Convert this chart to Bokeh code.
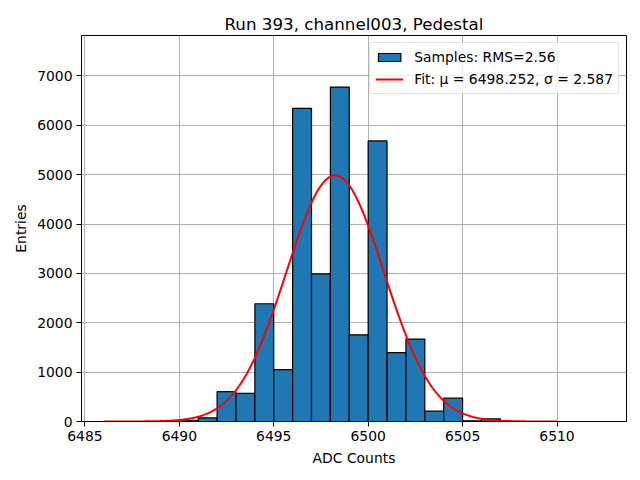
import numpy as np
from bokeh.plotting import figure
from bokeh.models import Range1d, FixedTicker, Legend, LegendItem, ColumnDataSource
from bokeh.embed import file_html
from bokeh.resources import INLINE

# Histogram data (bin width 1 ADC count)
bin_left = [6490, 6491, 6492, 6493, 6494, 6495, 6496, 6497, 6498, 6499,
            6500, 6501, 6502, 6503, 6504, 6505, 6506]
counts = [25, 75, 605, 570, 2385, 1050, 6345, 2990, 6775, 1755,
          5685, 1395, 1670, 210, 472, 15, 55]

# Gaussian fit parameters
fit_mu = 6498.252
fit_sigma = 2.587
fit_amp = 4985
fit_x_min = 6486
fit_x_max = 6510

x_ticks = [6485, 6490, 6495, 6500, 6505, 6510]
y_ticks = [0, 1000, 2000, 3000, 4000, 5000, 6000, 7000]

FONT = "DejaVu Sans"

p = figure(width=632, height=472, output_backend="svg", toolbar_location=None,
           x_range=Range1d(6484.82, 6513.68), y_range=Range1d(0, 7820),
           min_border_left=81, min_border_right=6, min_border_top=35, min_border_bottom=51,
           title="Run 393, channel003, Pedestal")

p.title.align = "center"
p.title.text_font = FONT
p.title.text_font_size = "16.7px"
p.title.text_font_style = "normal"
p.title.text_color = "black"
p.title.standoff = 4
p.title.offset = 0

src = ColumnDataSource(dict(left=bin_left, right=[b + 1 for b in bin_left],
                            top=counts, bottom=[0] * len(counts)))
bars = p.quad(left="left", right="right", top="top", bottom="bottom", source=src,
              fill_color="#1f77b4", line_color="black", line_width=1.2)

fx = np.linspace(fit_x_min, fit_x_max, 600)
fy = fit_amp * np.exp(-0.5 * ((fx - fit_mu) / fit_sigma) ** 2)
fit = p.line(fx, fy, line_color="#ff0000", line_width=2)

p.outline_line_color = "black"
p.outline_line_width = 1
p.outline_line_alpha = 1

for g in (p.xgrid, p.ygrid):
    g.grid_line_color = "#b0b0b0"
    g.grid_line_width = 1
    g.level = "underlay"

for ax in (p.xaxis, p.yaxis):
    ax.axis_line_color = "black"
    ax.major_tick_line_color = "black"
    ax.major_tick_out = 5
    ax.major_tick_in = 0
    ax.minor_tick_line_color = None
    ax.major_label_text_font = FONT
    ax.major_label_text_font_size = "13.9px"
    ax.major_label_text_color = "black"
    ax.axis_label_text_font = FONT
    ax.axis_label_text_font_size = "13.9px"
    ax.axis_label_text_font_style = "normal"
    ax.axis_label_text_color = "black"

p.xaxis.ticker = FixedTicker(ticks=x_ticks)
p.yaxis.ticker = FixedTicker(ticks=y_ticks)
p.xaxis.axis_label = "ADC Counts"
p.yaxis.axis_label = "Entries"
p.xaxis.major_label_standoff = 4
p.yaxis.major_label_standoff = 4
p.xaxis.axis_label_standoff = 6
p.yaxis.axis_label_standoff = 5

legend = Legend(items=[
    LegendItem(label="Samples: RMS=2.56", renderers=[bars]),
    LegendItem(label="Fit: \u03bc = 6498.252, \u03c3 = 2.587", renderers=[fit]),
], location="top_right")
legend.label_text_font = FONT
legend.label_text_font_size = "13.9px"
legend.label_text_color = "black"
legend.glyph_width = 28
legend.glyph_height = 10
legend.label_height = 18
legend.spacing = 4
legend.padding = 5
legend.margin = 7
legend.label_standoff = 11
legend.border_line_color = "#cccccc"
legend.border_line_width = 1
legend.background_fill_color = "white"
legend.background_fill_alpha = 0.8
legend.border_radius = 3
p.add_layout(legend)

open("out.html", "w").write(file_html(p, INLINE))
